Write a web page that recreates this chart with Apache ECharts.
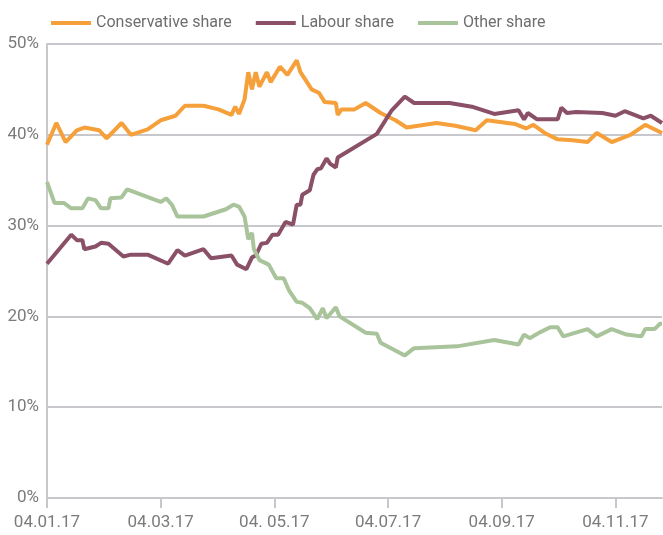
<!DOCTYPE html>
<html>
<head>
<meta charset="utf-8">
<script src="https://cdn.jsdelivr.net/npm/echarts@6/dist/echarts.min.js"></script>
<style>
  html, body { margin: 0; padding: 0; background: #fff; }
  #chart { width: 663px; height: 535px; }
</style>
</head>
<body>
<div id="chart"></div>
<script>
  // days counted from 04.01.17
  const tickDays = [0, 61, 122, 183, 244, 305];
  const tickLabels = ['04.01.17', '04.03.17', '04. 05.17', '04.07.17', '04.09.17', '04.11.17'];

  const conDays = [0, 5, 10, 16, 20, 28, 32, 40, 45, 54, 61, 69, 74, 84, 92, 99, 101, 103, 106, 108, 110, 112, 114, 118, 120, 125, 129, 134, 136, 142, 146, 149, 155, 156, 158, 165, 171, 179, 187, 193, 209, 219, 230, 236, 251, 257, 261, 267, 274, 282, 290, 295, 303, 313, 321, 330];
  const conShare = [38.9, 41.3, 39.2, 40.5, 40.8, 40.5, 39.6, 41.3, 40.0, 40.6, 41.6, 42.1, 43.2, 43.2, 42.8, 42.2, 43.1, 42.3, 43.9, 46.9, 45.0, 46.9, 45.3, 46.9, 45.8, 47.5, 46.6, 48.2, 46.9, 45.0, 44.6, 43.6, 43.5, 42.2, 42.8, 42.8, 43.5, 42.4, 41.6, 40.8, 41.3, 41.0, 40.5, 41.6, 41.2, 40.7, 41.1, 40.2, 39.5, 39.4, 39.2, 40.2, 39.2, 40.0, 41.1, 40.2];

  const labDays = [0, 13, 16, 19, 20, 26, 29, 33, 41, 45, 54, 65, 70, 74, 84, 88, 99, 102, 107, 110, 112, 115, 118, 121, 124, 128, 132, 134, 136, 137, 141, 143, 145, 147, 150, 152, 155, 156, 177, 185, 192, 197, 216, 228, 240, 253, 256, 258, 263, 274, 276, 279, 284, 298, 305, 310, 320, 324, 330];
  const labShare = [25.8, 29.0, 28.4, 28.4, 27.4, 27.7, 28.1, 28.0, 26.6, 26.8, 26.8, 25.8, 27.3, 26.7, 27.4, 26.4, 26.7, 25.7, 25.2, 26.5, 26.7, 28.0, 28.1, 29.0, 29.0, 30.4, 30.1, 32.3, 32.3, 33.4, 33.9, 35.6, 36.2, 36.3, 37.4, 36.8, 36.4, 37.5, 40.1, 42.7, 44.2, 43.5, 43.5, 43.1, 42.3, 42.7, 41.7, 42.4, 41.7, 41.7, 43.0, 42.4, 42.5, 42.4, 42.1, 42.6, 41.8, 42.1, 41.3];

  const othDays = [0, 4, 9, 13, 19, 22, 26, 29, 33, 34, 40, 43, 61, 64, 67, 70, 84, 96, 100, 103, 106, 108, 109, 110, 111, 114, 119, 123, 127, 130, 134, 137, 141, 145, 148, 150, 155, 157, 171, 177, 179, 192, 197, 220, 240, 253, 256, 259, 265, 270, 274, 277, 290, 295, 303, 311, 319, 321, 326, 329, 330];
  const othShare = [34.8, 32.5, 32.5, 31.9, 31.9, 33.0, 32.8, 31.9, 31.9, 33.0, 33.1, 34.0, 32.6, 33.0, 32.3, 31.0, 31.0, 31.8, 32.3, 32.1, 31.0, 28.5, 28.5, 29.2, 27.4, 26.2, 25.7, 24.2, 24.2, 22.8, 21.6, 21.5, 20.9, 19.7, 20.9, 19.8, 21.0, 20.0, 18.2, 18.1, 17.1, 15.7, 16.5, 16.7, 17.4, 16.9, 18.0, 17.6, 18.3, 18.8, 18.8, 17.8, 18.6, 17.8, 18.6, 18.0, 17.8, 18.6, 18.6, 19.2, 19.2];

  const pair = (days, vals) => days.map((d, i) => [d, vals[i]]);

  const chart = echarts.init(document.getElementById('chart'));
  const gridGrey = '#c8c8cc';
  const textGrey = '#7b7b7b';

  chart.setOption({
    animation: false,
    color: ['#f5a03a', '#8a5067', '#a9c49b'],
    textStyle: { fontFamily: 'Roboto' },
    legend: {
      top: 10,
      left: 46,
      itemWidth: 40,
      itemHeight: 4,
      itemGap: 24,
      icon: 'rect',
      textStyle: { color: '#6e6e6e', fontSize: 16, padding: [0, 0, 0, 0] },
      data: ['Conservative share', 'Labour share', 'Other share']
    },
    grid: { left: 47, right: 1, top: 44, bottom: 37 },
    xAxis: {
      type: 'value',
      min: 0,
      max: 330,
      splitLine: { show: false },
      axisLine: { lineStyle: { color: gridGrey, width: 2 } },
      axisTick: { show: true, length: 10, customValues: tickDays, lineStyle: { color: gridGrey, width: 2 } },
      axisLabel: {
        customValues: tickDays,
        margin: 16,
        color: textGrey,
        fontSize: 17,
        formatter: v => tickLabels[tickDays.indexOf(v)]
      }
    },
    yAxis: {
      type: 'value',
      min: 0,
      max: 50,
      interval: 10,
      axisLine: { show: true, lineStyle: { color: gridGrey, width: 2 } },
      axisTick: { show: false },
      splitLine: { lineStyle: { color: gridGrey, width: 2 } },
      axisLabel: { color: textGrey, fontSize: 17, margin: 8, formatter: '{value}%' }
    },
    series: [
      { name: 'Conservative share', type: 'line', showSymbol: false, lineStyle: { width: 4 }, data: pair(conDays, conShare) },
      { name: 'Labour share', type: 'line', showSymbol: false, lineStyle: { width: 4 }, data: pair(labDays, labShare) },
      { name: 'Other share', type: 'line', showSymbol: false, lineStyle: { width: 4 }, data: pair(othDays, othShare) }
    ]
  });
</script>
</body>
</html>
